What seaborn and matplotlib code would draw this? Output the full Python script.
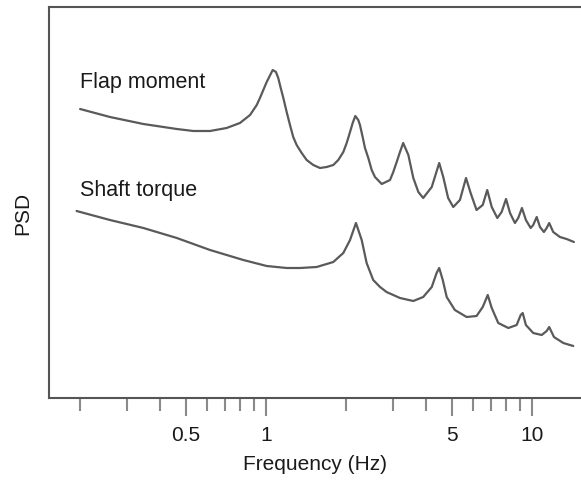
import pandas as pd
import matplotlib.pyplot as plt
import matplotlib.ticker as mticker
import seaborn as sns

# flap moment PSD (frequency in Hz, level in arbitrary log units)
flap_freq = [0.200, 0.259, 0.346, 0.462, 0.533, 0.616, 0.711, 0.798, 0.871, 0.923,
             0.949, 1.006, 1.060, 1.090, 1.112, 1.136, 1.162, 1.196, 1.231, 1.266,
             1.304, 1.362, 1.422, 1.506, 1.596, 1.691, 1.791, 1.870, 1.953, 2.011,
             2.070, 2.118, 2.167, 2.223, 2.256, 2.309, 2.356, 2.425, 2.497, 2.569,
             2.723, 2.926, 3.010, 3.100, 3.190, 3.280, 3.430, 3.580, 3.740, 3.900,
             4.200, 4.480, 4.640, 4.840, 5.060, 5.360, 5.650, 5.880, 6.190, 6.530,
             6.790, 7.060, 7.410, 7.690, 7.990, 8.270, 8.630, 8.880, 9.170, 9.490,
             9.890, 10.11, 10.42, 10.72, 11.09, 11.36, 11.61, 12.02, 12.74, 13.50,
             14.38]
flap_psd = [28.9, 28.1, 27.4, 26.9, 26.7, 26.7, 27.0, 27.5, 28.3, 29.3,
            30.0, 31.6, 32.8, 32.6, 32.0, 31.0, 30.0, 28.6, 27.3, 26.1,
            25.3, 24.5, 23.8, 23.3, 23.0, 23.1, 23.3, 23.8, 24.6, 25.5,
            26.6, 27.5, 28.2, 27.8, 27.3, 26.1, 25.0, 24.0, 22.8, 22.1,
            21.4, 21.8, 22.6, 23.6, 24.6, 25.5, 24.3, 22.0, 20.6, 20.0,
            21.1, 23.5, 22.1, 20.0, 19.1, 19.8, 22.0, 20.5, 18.8, 19.3,
            20.8, 19.1, 18.0, 18.6, 19.9, 18.5, 17.5, 18.0, 19.0, 17.8,
            17.0, 17.3, 18.1, 17.1, 16.6, 17.0, 17.5, 16.6, 16.1, 15.9,
            15.6]

# shaft torque PSD
shaft_freq = [0.194, 0.259, 0.346, 0.462, 0.616, 0.822, 1.006, 1.196, 1.342, 1.551,
              1.791, 1.953, 2.070, 2.179, 2.290, 2.390, 2.530, 2.684, 2.840, 3.190,
              3.580, 3.900, 4.200, 4.380, 4.480, 4.620, 4.780, 5.130, 5.680, 6.190,
              6.530, 6.820, 7.060, 7.470, 8.150, 8.760, 9.070, 9.230, 9.490, 10.11,
              10.88, 11.36, 11.61, 12.10, 13.12, 14.30]
shaft_psd = [18.7, 17.8, 17.0, 16.0, 14.8, 13.8, 13.2, 13.0, 13.0, 13.1,
             13.6, 14.5, 15.8, 17.5, 15.8, 13.5, 11.8, 11.1, 10.6, 10.0,
             9.7, 10.1, 11.1, 12.5, 13.0, 11.8, 10.1, 8.8, 8.1, 8.2,
             9.1, 10.3, 9.0, 7.5, 7.0, 7.3, 8.3, 8.5, 7.3, 6.5,
             6.3, 6.7, 7.1, 6.1, 5.5, 5.2]

labels = ['Flap moment', 'Shaft torque']
label_pos = [(0.2, 31.0), (0.2, 20.2)]

major_ticks = [0.5, 1, 5, 10]
major_labels = ['0.5', '1', '5', '10']
minor_ticks = [0.2, 0.3, 0.4, 0.6, 0.7, 0.8, 0.9, 2, 3, 4, 6, 7, 8, 9]

sns.set_theme(style='white')
plt.rcParams['font.family'] = ['Liberation Sans', 'DejaVu Sans']

fig = plt.figure(figsize=(5.81, 4.82), dpi=100)
ax = fig.add_axes([49 / 581, 1 - 398 / 482, 1 - 49 / 581, (398 - 7) / 482])

line_color = '#5a5a5a'
df_flap = pd.DataFrame({'f': flap_freq, 'psd': flap_psd})
df_shaft = pd.DataFrame({'f': shaft_freq, 'psd': shaft_psd})
sns.lineplot(data=df_flap, x='f', y='psd', ax=ax, color=line_color, lw=1.6, estimator=None)
sns.lineplot(data=df_shaft, x='f', y='psd', ax=ax, color=line_color, lw=1.6, estimator=None)

for txt, (x, y) in zip(labels, label_pos):
    ax.text(x, y, txt, fontsize=15.5, color='#1a1a1a', va='baseline', ha='left')

ax.set_xscale('log')
ax.set_xlim(0.1528, 15.29)
ax.set_ylim(0, 39.1)

ax.xaxis.set_major_locator(mticker.FixedLocator(major_ticks))
ax.xaxis.set_major_formatter(mticker.FixedFormatter(major_labels))
ax.xaxis.set_minor_locator(mticker.FixedLocator(minor_ticks))
ax.xaxis.set_minor_formatter(mticker.NullFormatter())
ax.set_yticks([])

ax.tick_params(axis='x', which='major', direction='out', length=13, width=1.5,
               color='#8a8a8a', pad=7, labelsize=15, labelcolor='#1a1a1a', bottom=True)
ax.tick_params(axis='x', which='minor', direction='out', length=9, width=1.5,
               color='#8a8a8a', bottom=True)

for side in ['left', 'top', 'bottom']:
    ax.spines[side].set_color('#555555')
    ax.spines[side].set_linewidth(1.5)
ax.spines['right'].set_visible(False)

ax.set_xlabel('Frequency (Hz)', fontsize=15, color='#1a1a1a', labelpad=7)
ax.set_ylabel('PSD', fontsize=15, color='#1a1a1a')
ax.yaxis.set_label_coords(-0.032, 0.473)

fig.savefig('out.png', dpi=100)
